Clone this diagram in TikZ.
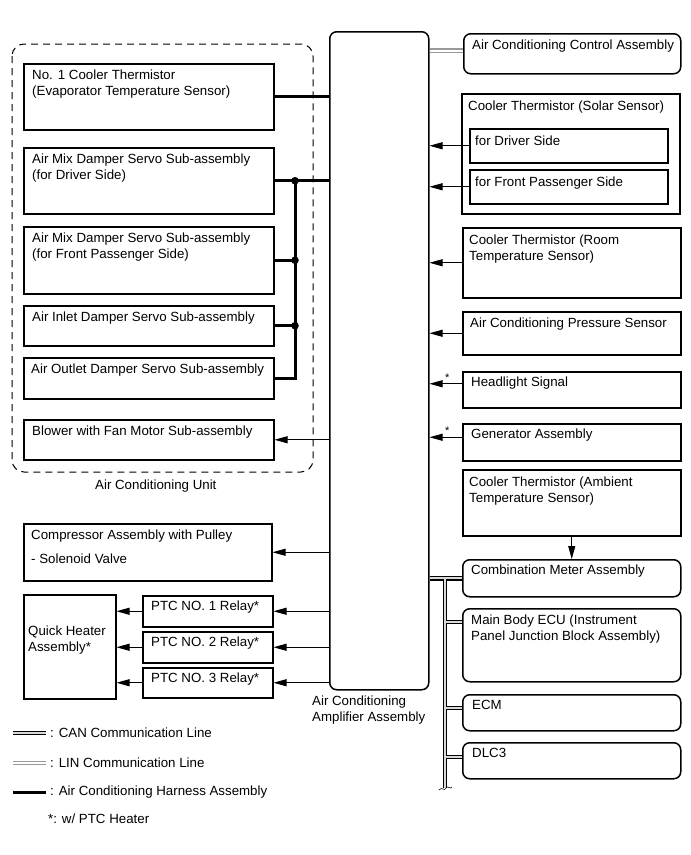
\documentclass[tikz,border=0pt]{standalone}
\usepackage{fontspec}
\setmainfont{Liberation Sans}
\usetikzlibrary{arrows.meta, positioning, calc}

\begin{document}
\begin{tikzpicture}[
    x=1pt, y=-1pt,
    box/.style={draw, line width=1.5pt, anchor=north west, inner sep=0pt},
    rbox/.style={box, rounded corners=7pt},
    txt/.style={anchor=north west, align=left, inner sep=0pt,
                font=\fontsize{13.3}{16}\selectfont},
    sig/.style={line width=0.9pt, -{Triangle[length=13pt, width=7pt]}},
    harness/.style={line width=3pt},
    ast/.style={inner sep=0pt, font=\fontsize{11}{11}\selectfont},
    >=Stealth
  ]
  \useasboundingbox (0,0) rectangle (691,855);

  % amplifier and air conditioning unit
  \node[rbox, minimum width=99, minimum height=658] (amp) at (329,31) {};
  \node[txt] (amp-t) at (312,696) {Air Conditioning\\Amplifier Assembly};
  \draw[line width=1pt, dash pattern=on 7pt off 5pt, rounded corners=12pt]
    (12,44) rectangle (313,472);
  \node[txt] (unit-t) at (95,480) {Air Conditioning Unit};

  \node[box, minimum width=250, minimum height=66] (cool1) at (23,63) {};
  \node[box, minimum width=250, minimum height=66] (mixdr) at (23,147) {};
  \node[box, minimum width=250, minimum height=67] (mixps) at (23,226) {};
  \node[box, minimum width=250, minimum height=40] (inlet) at (23,305) {};
  \node[box, minimum width=250, minimum height=41] (outlet) at (23,357) {};
  \node[box, minimum width=250, minimum height=40] (blower) at (23,419) {};
  \node[txt] (cool1-t) at ([shift={(9,7)}]cool1.north west)
    {No. 1 Cooler Thermistor\\(Evaporator Temperature Sensor)};
  \node[txt] (mixdr-t) at ([shift={(9,7)}]mixdr.north west)
    {Air Mix Damper Servo Sub-assembly\\(for Driver Side)};
  \node[txt] (mixps-t) at ([shift={(9,7)}]mixps.north west)
    {Air Mix Damper Servo Sub-assembly\\(for Front Passenger Side)};
  \node[txt] (inlet-t) at ([shift={(9,7)}]inlet.north west)
    {Air Inlet Damper Servo Sub-assembly};
  \node[txt] (outlet-t) at ([shift={(8,7)}]outlet.north west)
    {Air Outlet Damper Servo Sub-assembly};
  \node[txt] (blower-t) at ([shift={(9,7)}]blower.north west)
    {Blower with Fan Motor Sub-assembly};

  % compressor and quick heater
  \node[box, minimum width=248, minimum height=57] (comp) at (23,523) {};
  \node[txt] (comp-t) at ([shift={(8,7)}]comp.north west)
    {Compressor Assembly with Pulley\\[8pt] - Solenoid Valve};
  \node[box, minimum width=92, minimum height=104] (heater) at (23,594) {};
  \node[txt] (heater-t) at ([shift={(5,32)}]heater.north west) {Quick Heater\\Assembly*};
  \node[box, minimum width=130, minimum height=31] (ptc1) at (142,595) {};
  \node[box, minimum width=130, minimum height=31] (ptc2) at (142,631) {};
  \node[box, minimum width=130, minimum height=30] (ptc3) at (142,667) {};
  \node[txt] (ptc1-t) at ([shift={(9,6)}]ptc1.north west) {PTC NO. 1 Relay*};
  \node[txt] (ptc2-t) at ([shift={(9,6)}]ptc2.north west) {PTC NO. 2 Relay*};
  \node[txt] (ptc3-t) at ([shift={(9,6)}]ptc3.north west) {PTC NO. 3 Relay*};

  % right hand side
  \node[rbox, minimum width=217, minimum height=40] (ctrl) at (463,33) {};
  \node[txt] (ctrl-t) at ([shift={(9,7)}]ctrl.north west) {Air Conditioning Control Assembly};
  \node[box, minimum width=218, minimum height=120] (solar) at (461,93) {};
  \node[txt] (solar-t) at ([shift={(7,8)}]solar.north west) {Cooler Thermistor (Solar Sensor)};
  \node[box, minimum width=198, minimum height=34] (soldr) at (469,128) {};
  \node[box, minimum width=198, minimum height=34] (solps) at (469,169) {};
  \node[txt] (soldr-t) at ([shift={(6,8)}]soldr.north west) {for Driver Side};
  \node[txt] (solps-t) at ([shift={(6,8)}]solps.north west) {for Front Passenger Side};
  \node[box, minimum width=218, minimum height=70] (room) at (462,227) {};
  \node[txt] (room-t) at ([shift={(7,8)}]room.north west)
    {Cooler Thermistor (Room\\Temperature Sensor)};
  \node[box, minimum width=218, minimum height=43] (press) at (462,311) {};
  \node[txt] (press-t) at ([shift={(8,7)}]press.north west) {Air Conditioning Pressure Sensor};
  \node[box, minimum width=218, minimum height=36] (head) at (462,371) {};
  \node[txt] (head-t) at ([shift={(9,6)}]head.north west) {Headlight Signal};
  \node[box, minimum width=218, minimum height=37] (gen) at (462,423) {};
  \node[txt] (gen-t) at ([shift={(9,6)}]gen.north west) {Generator Assembly};
  \node[box, minimum width=218, minimum height=66] (amb) at (462,469) {};
  \node[txt] (amb-t) at ([shift={(7,8)}]amb.north west)
    {Cooler Thermistor (Ambient\\Temperature Sensor)};
  \node[rbox, minimum width=218, minimum height=37] (meter) at (462,559) {};
  \node[txt] (meter-t) at ([shift={(9,6)}]meter.north west) {Combination Meter Assembly};
  \node[rbox, minimum width=218, minimum height=73] (ecu) at (462,608) {};
  \node[txt] (ecu-t) at ([shift={(9,7)}]ecu.north west)
    {Main Body ECU (Instrument\\Panel Junction Block Assembly)};
  \node[rbox, minimum width=218, minimum height=36] (ecm) at (462,694) {};
  \node[txt] (ecm-t) at ([shift={(10,6)}]ecm.north west) {ECM};
  \node[rbox, minimum width=218, minimum height=36] (dlc) at (462,742) {};
  \node[txt] (dlc-t) at ([shift={(10,6)}]dlc.north west) {DLC3};

  % harness
  \coordinate (bus) at (295,0);
  \draw[harness] (cool1.east) -- (cool1.east -| amp.west);
  \draw[harness] (mixdr.east) -- (mixdr.east -| amp.west);
  \draw[harness] (mixdr.east -| bus) -- (outlet.east -| bus) -- (outlet.east);
  \draw[harness] (mixps.east) -- (mixps.east -| bus);
  \draw[harness] (inlet.east) -- (inlet.east -| bus);
  \fill (mixdr.east -| bus) circle[radius=3.8pt];
  \fill (mixps.east -| bus) circle[radius=3.8pt];
  \fill (inlet.east -| bus) circle[radius=3.8pt];

  % signal lines
  \draw[sig] (blower.east -| amp.west) -- (blower.east);
  \draw[sig] (comp.east -| amp.west) -- (comp.east);
  \draw[sig] (ptc1.east -| amp.west) -- (ptc1.east);
  \draw[sig] (ptc2.east -| amp.west) -- (ptc2.east);
  \draw[sig] (ptc3.east -| amp.west) -- (ptc3.east);
  \draw[sig] (ptc1.west) -- (ptc1.west -| heater.east);
  \draw[sig] (ptc2.west) -- (ptc2.west -| heater.east);
  \draw[sig] (ptc3.west) -- (ptc3.west -| heater.east);
  \draw[sig] (soldr.west) -- (soldr.west -| amp.east);
  \draw[sig] (solps.west) -- (solps.west -| amp.east);
  \draw[sig] (room.west) -- (room.west -| amp.east);
  \draw[sig] (press.west) -- (press.west -| amp.east);
  \coordinate (head-a) at ([yshift=6pt]head.west);
  \coordinate (gen-a) at ([yshift=5pt]gen.west);
  \draw[sig] (head-a) -- (head-a -| amp.east) node[ast, pos=0.45, above=2pt] {*};
  \draw[sig] (gen-a) -- (gen-a -| amp.east) node[ast, pos=0.45, above=2pt] {*};
  \draw[sig] (amb.south) -- (meter.north);

  % LIN and CAN
  \coordinate (lin-a) at ([yshift=3pt]ctrl.west);
  \foreach \w/\c in {4.6pt/gray!80, 2pt/white}
    \draw[line width=\w, draw=\c] (lin-a -| amp.east) -- (lin-a);
  \coordinate (canx) at (445,0);
  \coordinate (can-end) at (445,788);
  \coordinate (can-ecu) at ([yshift=-14pt]ecu.north west);
  \coordinate (can-ecm) at ([yshift=-14pt]ecm.north west);
  \coordinate (can-dlc) at ([yshift=-15pt]dlc.north west);
  \foreach \w/\c in {4.6pt/black, 2pt/gray!30}
    \draw[line width=\w, draw=\c]
      (meter.west -| amp.east) -- (meter.west)
      (meter.west -| canx) -- (can-end)
      (can-ecu -| canx) -- (can-ecu)
      (can-ecm -| canx) -- (can-ecm)
      (can-dlc -| canx) -- (can-dlc);
  \draw[line width=0.6pt] (439,790) .. controls (442,786) and (444,792) .. (446,788)
    .. controls (448,785) and (450,790) .. (452,787);

  % legend
  \foreach \w/\c in {4.6pt/black, 2pt/gray!30}
    \draw[line width=\w, draw=\c] (13,733) -- (46,733);
  \foreach \w/\c in {4.6pt/gray!80, 2pt/white}
    \draw[line width=\w, draw=\c] (13,763) -- (46,763);
  \draw[harness] (13,792) -- (46,792);
  \node[txt, anchor=west] (leg-can) at (50,733) {: CAN Communication Line};
  \node[txt, anchor=west] (leg-lin) at (50,763) {: LIN Communication Line};
  \node[txt, anchor=west] (leg-har) at (50,792) {: Air Conditioning Harness Assembly};
  \node[txt, anchor=west] (leg-ptc) at (48,819) {*: w/ PTC Heater};
\end{tikzpicture}
\end{document}
